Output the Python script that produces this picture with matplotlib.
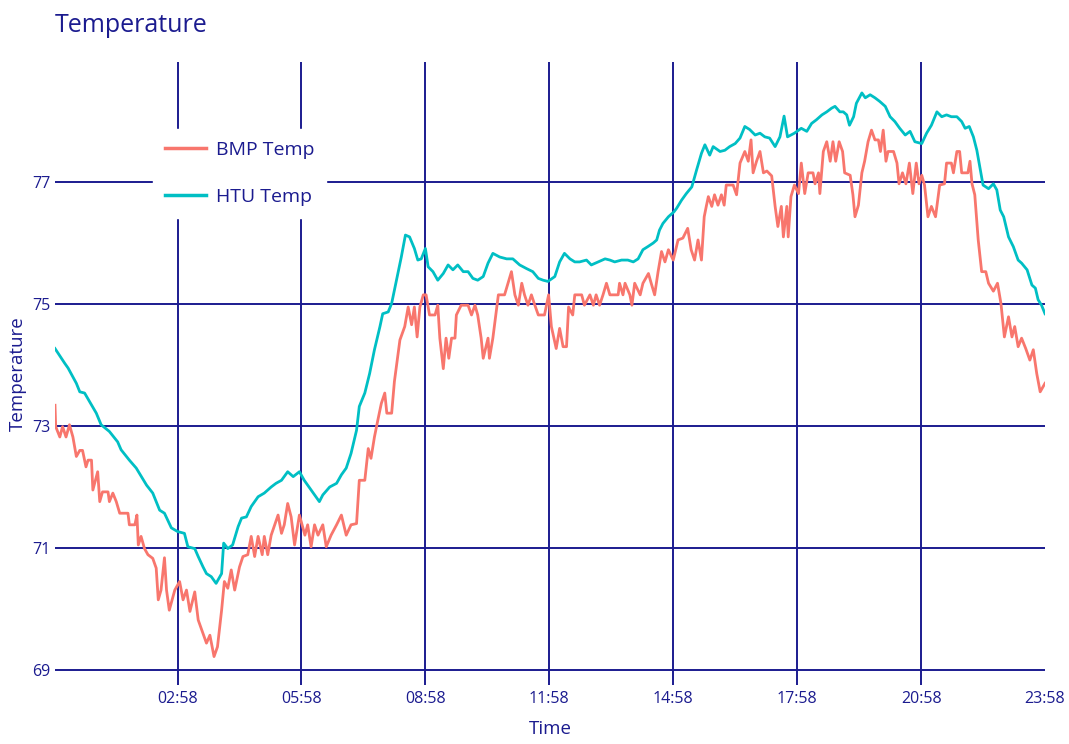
import matplotlib
matplotlib.use("Agg")
import matplotlib.pyplot as plt
from matplotlib.ticker import FuncFormatter, FixedLocator

# data: minutes after midnight, temperature (F)
htu_minutes = [0, 14, 19, 31, 36, 43, 60, 67, 79, 91, 96, 108, 118, 133, 142, 152, 159, 169, 178,
               188, 193, 203, 208, 215, 220, 227, 234, 242, 245, 251, 258, 266, 271, 278, 285, 295,
               304, 314, 321, 329, 338, 346, 355, 362, 372, 377, 384, 389, 399, 409, 416, 423, 430,
               438, 442, 450, 457, 464, 472, 476, 484, 489, 496, 503, 509, 515, 522, 527, 532, 538,
               542, 549, 556, 564, 571, 578, 585, 593, 600, 607, 614, 622, 629, 636, 646, 656, 665,
               675, 685, 694, 702, 709, 716, 726, 733, 740, 748, 755, 762, 772, 779, 789, 799, 806,
               813, 823, 832, 840, 847, 854, 861, 869, 874, 878, 883, 891, 899, 903, 910, 917, 925,
               932, 939, 944, 951, 956, 966, 973, 980, 988, 995, 1002, 1009, 1017, 1024, 1031, 1038,
               1046, 1053, 1059, 1064, 1074, 1084, 1092, 1099, 1106, 1114, 1121, 1128, 1133, 1140,
               1145, 1150, 1154, 1160, 1164, 1172, 1177, 1184, 1191, 1198, 1206, 1213, 1220, 1227,
               1235, 1242, 1249, 1259, 1266, 1273, 1281, 1288, 1295, 1302, 1310, 1317, 1322, 1328,
               1334, 1339, 1344, 1348, 1356, 1363, 1368, 1373, 1378, 1385, 1392, 1399, 1404, 1412,
               1419, 1424, 1428, 1433, 1438]
htu_temp = [74.27, 74.03, 73.95, 73.70, 73.56, 73.54, 73.21, 73.02, 72.91, 72.74, 72.61, 72.44, 72.31,
            72.03, 71.90, 71.62, 71.57, 71.33, 71.27, 71.24, 71.02, 70.99, 70.86, 70.69, 70.58, 70.53,
            70.42, 70.58, 71.08, 70.99, 71.05, 71.35, 71.49, 71.51, 71.68, 71.84, 71.90, 72.00, 72.06,
            72.11, 72.25, 72.17, 72.25, 72.11, 71.95, 71.87, 71.76, 71.87, 72.00, 72.06, 72.20, 72.31,
            72.55, 72.93, 73.32, 73.54, 73.86, 74.25, 74.63, 74.84, 74.87, 75.01, 75.39, 75.77, 76.13,
            76.10, 75.91, 75.72, 75.74, 75.91, 75.61, 75.53, 75.39, 75.50, 75.64, 75.56, 75.64, 75.53,
            75.53, 75.42, 75.39, 75.45, 75.67, 75.83, 75.77, 75.74, 75.74, 75.64, 75.58, 75.53, 75.42,
            75.39, 75.37, 75.45, 75.69, 75.83, 75.74, 75.69, 75.69, 75.72, 75.64, 75.69, 75.74, 75.72,
            75.69, 75.72, 75.72, 75.69, 75.74, 75.89, 75.94, 76.00, 76.05, 76.21, 76.32, 76.43, 76.51,
            76.57, 76.70, 76.81, 76.92, 77.20, 77.47, 77.61, 77.44, 77.58, 77.50, 77.52, 77.58, 77.63,
            77.72, 77.91, 77.86, 77.77, 77.80, 77.74, 77.72, 77.58, 77.74, 78.08, 77.74, 77.80, 77.88,
            77.83, 77.96, 78.02, 78.10, 78.15, 78.21, 78.24, 78.15, 78.15, 78.10, 77.93, 78.07, 78.29,
            78.46, 78.38, 78.43, 78.38, 78.32, 78.24, 78.07, 77.99, 77.88, 77.77, 77.83, 77.66, 77.63,
            77.80, 77.93, 78.15, 78.07, 78.10, 78.07, 78.07, 77.99, 77.88, 77.91, 77.74, 77.52, 77.20,
            76.95, 76.89, 76.97, 76.87, 76.54, 76.43, 76.10, 75.94, 75.72, 75.67, 75.56, 75.31, 75.26,
            75.07, 74.98, 74.84]

bmp_minutes = [0, 1, 7, 11, 16, 21, 26, 31, 36, 40, 45, 48, 53, 55, 62, 65, 69, 77, 79, 84, 89, 94,
               106, 108, 116, 119, 121, 125, 130, 135, 142, 147, 150, 154, 159, 162, 166, 174, 181,
               186, 191, 196, 203, 208, 215, 220, 225, 231, 236, 242, 246, 251, 256, 261, 268, 273,
               280, 285, 290, 295, 301, 304, 309, 314, 324, 329, 333, 338, 343, 348, 355, 363, 367,
               372, 377, 382, 389, 394, 401, 409, 416, 423, 430, 438, 442, 450, 455, 459, 464, 469,
               474, 479, 482, 489, 493, 501, 508, 513, 518, 522, 526, 530, 535, 539, 544, 552, 556,
               559, 564, 568, 572, 576, 581, 583, 590, 600, 605, 610, 614, 619, 622, 629, 631, 636,
               644, 653, 658, 663, 668, 673, 678, 682, 687, 692, 697, 702, 711, 717, 721, 728, 733,
               738, 743, 746, 752, 755, 765, 769, 777, 782, 786, 791, 796, 801, 806, 818, 820, 825,
               828, 835, 838, 842, 850, 854, 862, 866, 871, 876, 881, 886, 891, 898, 905, 912, 919,
               924, 929, 934, 939, 943, 946, 949, 954, 958, 963, 968, 972, 975, 985, 990, 995, 1002,
               1007, 1011, 1014, 1019, 1024, 1029, 1034, 1041, 1046, 1050, 1055, 1058, 1063, 1065,
               1069, 1074, 1080, 1084, 1089, 1094, 1101, 1104, 1109, 1111, 1116, 1121, 1126, 1130,
               1134, 1139, 1144, 1147, 1155, 1159, 1162, 1167, 1172, 1176, 1181, 1186, 1191, 1196,
               1199, 1203, 1207, 1210, 1218, 1223, 1226, 1231, 1236, 1241, 1246, 1251, 1255, 1259,
               1263, 1268, 1273, 1279, 1285, 1292, 1295, 1302, 1305, 1310, 1314, 1317, 1326, 1329,
               1332, 1336, 1341, 1346, 1352, 1356, 1363, 1369, 1374, 1379, 1385, 1390, 1394, 1399,
               1404, 1410, 1416, 1421, 1426, 1431, 1438]
bmp_temp = [73.34, 72.99, 72.82, 72.99, 72.82, 73.02, 72.82, 72.50, 72.60, 72.60, 72.33, 72.44, 72.44,
            71.95, 72.25, 71.76, 71.92, 71.92, 71.76, 71.90, 71.76, 71.57, 71.57, 71.38, 71.38, 71.54,
            71.05, 71.19, 70.99, 70.89, 70.83, 70.67, 70.15, 70.31, 70.84, 70.31, 69.98, 70.31, 70.45,
            70.15, 70.31, 69.96, 70.28, 69.82, 69.60, 69.44, 69.57, 69.22, 69.38, 69.98, 70.45, 70.34,
            70.64, 70.31, 70.69, 70.86, 70.89, 71.19, 70.86, 71.19, 70.89, 71.19, 70.89, 71.21, 71.54,
            71.24, 71.38, 71.73, 71.51, 71.05, 71.54, 71.21, 71.38, 71.02, 71.38, 71.21, 71.38, 71.02,
            71.21, 71.38, 71.54, 71.21, 71.38, 71.40, 72.11, 72.11, 72.63, 72.47, 72.82, 73.10, 73.37,
            73.54, 73.21, 73.21, 73.73, 74.41, 74.63, 74.95, 74.66, 74.95, 74.46, 74.95, 75.15, 75.15,
            74.82, 74.82, 74.98, 74.44, 73.94, 74.44, 74.11, 74.44, 74.44, 74.82, 74.98, 74.98, 74.82,
            74.98, 74.82, 74.44, 74.11, 74.44, 74.11, 74.44, 75.15, 75.15, 75.34, 75.53, 75.15, 74.98,
            75.34, 75.15, 74.98, 75.15, 74.98, 74.82, 74.82, 75.15, 74.63, 74.27, 74.60, 74.30, 74.30,
            74.95, 74.82, 75.15, 75.15, 74.98, 75.15, 74.98, 75.15, 74.98, 75.15, 75.34, 75.15, 75.15,
            75.34, 75.15, 75.34, 75.15, 74.98, 75.34, 75.15, 75.34, 75.50, 75.34, 75.15, 75.53, 75.86,
            75.69, 75.89, 75.72, 76.05, 76.08, 76.24, 75.89, 75.72, 76.05, 75.72, 76.43, 76.60, 76.76,
            76.60, 76.79, 76.62, 76.79, 76.62, 76.95, 76.95, 76.79, 77.31, 77.50, 77.34, 77.69, 77.15,
            77.34, 77.50, 77.15, 77.18, 77.10, 76.60, 76.27, 76.60, 76.10, 76.60, 76.10, 76.76, 76.95,
            76.81, 77.31, 76.81, 77.15, 77.15, 76.97, 77.15, 76.81, 77.50, 77.66, 77.34, 77.66, 77.34,
            77.66, 77.50, 77.15, 77.11, 76.79, 76.43, 76.62, 77.15, 77.34, 77.66, 77.85, 77.69, 77.69,
            77.50, 77.85, 77.34, 77.50, 77.50, 77.31, 76.97, 77.15, 76.97, 77.31, 76.81, 77.31, 76.97,
            77.11, 76.95, 76.43, 76.60, 76.43, 76.95, 76.97, 77.31, 77.31, 77.15, 77.50, 77.50, 77.15,
            77.15, 77.34, 76.97, 76.79, 76.05, 75.53, 75.53, 75.34, 75.21, 75.34, 75.01, 74.46, 74.79,
            74.46, 74.63, 74.30, 74.44, 74.27, 74.08, 74.25, 73.86, 73.56, 73.70]

x_ticks = [178, 358, 538, 718, 898, 1078, 1258, 1438]
y_ticks = [69, 71, 73, 75, 77]

navy = "#1b1b8f"
plt.rcParams['font.family'] = ['Open Sans', 'DejaVu Sans']

fig = plt.figure(figsize=(10.69, 7.44), dpi=100)
ax = fig.add_axes([55 / 1069, 1 - 685 / 744, 990 / 1069, 623 / 744])

ax.plot(bmp_minutes, bmp_temp, color="#F8766D", lw=2.0, label="BMP Temp", zorder=3)
ax.plot(htu_minutes, htu_temp, color="#00BFC4", lw=2.0, label="HTU Temp", zorder=3)

ax.set_xlim(0, 1438)
ax.set_ylim(68.754, 78.967)

# grid in navy, no spines or tick marks
for s in ax.spines.values():
    s.set_visible(False)
ax.xaxis.set_major_locator(FixedLocator(x_ticks))
ax.yaxis.set_major_locator(FixedLocator(y_ticks))
ax.xaxis.set_major_formatter(FuncFormatter(lambda m, p: "%02d:%02d" % (int(m) // 60, int(m) % 60)))
ax.grid(True, color=navy, lw=1.4, zorder=1)
# the last vertical line sits on the edge and is not drawn
ax.get_xgridlines()[-1].set_visible(False)
ax.tick_params(length=0, colors=navy, labelsize=11.5)
ax.tick_params(axis='x', pad=4)
ax.tick_params(axis='y', pad=3)

ax.set_xlabel("Time", color=navy, fontsize=13.5, labelpad=10)
ax.set_ylabel("Temperature", color=navy, fontsize=13.5, labelpad=4)
fig.text(55 / 1069, 1 - 26 / 744, "Temperature", color=navy, fontsize=18, va="center", ha="left")

leg = ax.legend(loc="upper left", bbox_to_anchor=(153 / 1069, 1 - 129 / 744),
                bbox_transform=fig.transFigure, frameon=True, fancybox=False,
                fontsize=14, handlelength=2.1, handletextpad=0.55, labelspacing=1.5,
                borderpad=0.6, borderaxespad=0)
leg.get_frame().set_facecolor("white")
leg.get_frame().set_edgecolor("white")
leg.get_frame().set_alpha(1)
leg.set_zorder(5)
for t in leg.get_texts():
    t.set_color(navy)
for h in leg.get_lines():
    h.set_linewidth(2.5)

fig.savefig("out.png", dpi=100)
